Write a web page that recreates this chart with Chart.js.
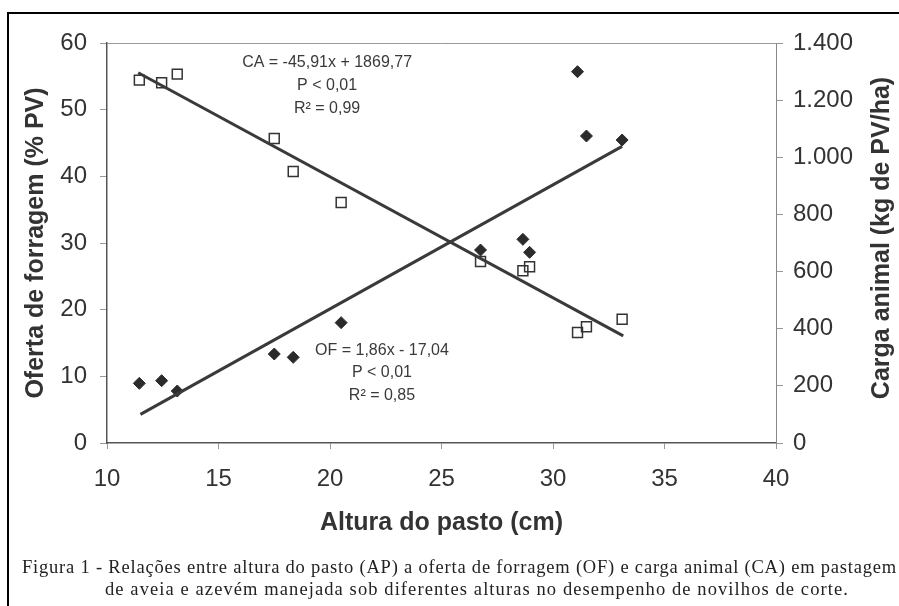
<!DOCTYPE html>
<html>
<head>
<meta charset="utf-8">
<script src="https://cdn.jsdelivr.net/npm/chart.js@4.4.1/dist/chart.umd.min.js"></script>
<style>
  html, body { margin: 0; padding: 0; background: #fff; overflow: hidden; }
  #wrap { position: relative; width: 899px; height: 606px; }
  #chart { position: absolute; left: 0; top: 0; }
  #frame { position: absolute; left: 7px; top: 12px; width: 1000px; height: 700px;
           border-left: 2px solid #000; border-top: 2px solid #000; }
  .cap { position: absolute; font-family: 'Liberation Serif', 'Times New Roman', serif;
         font-size: 18.5px; color: #222; white-space: nowrap; line-height: 20px; }
</style>
</head>
<body>
<div id="wrap">
  <canvas id="chart" width="899" height="606"></canvas>
  <div id="frame"></div>
  <div class="cap" id="cap1" data-w="875" style="left:22px; top:557px;">Figura 1 - Relações entre altura do pasto (AP) a oferta de forragem (OF) e carga animal (CA) em pastagem</div>
  <div class="cap" id="cap2" data-w="744" style="left:105px; top:579px;">de aveia e azevém manejada sob diferentes alturas no desempenho de novilhos de corte.</div>
</div>
<script>
// altura do pasto (cm) for each paddock
const alturaPasto = [11.45, 12.45, 13.15, 17.5, 18.35, 20.5, 26.75, 28.65, 28.95, 31.1, 31.5, 33.1];
// oferta de forragem (% PV) - left axis, diamonds
const ofertaForragem = [8.95, 9.35, 7.8, 13.35, 12.85, 18.05, 28.95, 30.55, 28.6, 55.7, 46.05, 45.45];
// carga animal (kg de PV/ha) - right axis, squares
const cargaAnimal = [1270, 1261, 1291, 1066, 950, 842, 635, 603, 617, 387, 407, 433];

// regression line ends as drawn
const ofLinhaX = [11.5, 33.1];
const ofLinhaY = [4.3, 44.5];
const caLinhaX = [11.4, 33.15];
const caLinhaY = [1296, 375];

const xTicks = [10, 15, 20, 25, 30, 35, 40];
const yLeftTicks = [0, 10, 20, 30, 40, 50, 60];
const yRightTicks = [0, 200, 400, 600, 800, 1000, 1200, 1400];

const caEquacao = ['CA = -45,91x + 1869,77', 'P < 0,01', 'R² = 0,99'];
const ofEquacao = ['OF = 1,86x - 17,04', 'P < 0,01', 'R² = 0,85'];
const tituloDireita = 'Carga animal (kg de PV/ha)';

const toPoints = (xs, ys) => xs.map((x, i) => ({ x: x, y: ys[i] }));
const fmtMil = v => v >= 1000 ? Math.floor(v / 1000) + '.' + String(v % 1000).padStart(3, '0') : String(v);

const sans = "'Liberation Sans', Arial, sans-serif";
const tickFont = { family: sans, size: 24 };
const titleFont = { family: sans, size: 25, weight: 'bold' };
const ink = '#333';

// caption lines stretched to the scanned width
document.querySelectorAll('.cap').forEach(el => {
  const target = +el.dataset.w;
  const n = el.textContent.length;
  const extra = (target - el.getBoundingClientRect().width) / n;
  el.style.letterSpacing = extra.toFixed(3) + 'px';
});

// plot box top line, right title and equations
const extras = {
  id: 'extras',
  beforeDatasetsDraw(chart) {
    const { ctx, chartArea: a } = chart;
    ctx.save();
    ctx.strokeStyle = '#999';
    ctx.lineWidth = 1;
    ctx.beginPath();
    ctx.moveTo(a.left, a.top + 0.5);
    ctx.lineTo(a.right, a.top + 0.5);
    ctx.stroke();
    ctx.restore();
  },
  afterDraw(chart) {
    const { ctx, chartArea: a } = chart;
    const x = chart.scales.x, y = chart.scales.y;
    ctx.save();
    ctx.fillStyle = '#3a3a3a';
    ctx.font = "16px " + sans;
    ctx.textAlign = 'center';
    ctx.textBaseline = 'middle';
    const caX = x.getPixelForValue(19.87), ofX = x.getPixelForValue(22.33);
    const caY = [57, 53.6, 50.1], ofY = [13.9, 10.6, 7.1];
    caEquacao.forEach((t, i) => ctx.fillText(t, caX, y.getPixelForValue(caY[i])));
    ofEquacao.forEach((t, i) => ctx.fillText(t, ofX, y.getPixelForValue(ofY[i])));

    ctx.fillStyle = ink;
    ctx.font = "bold 25px " + sans;
    ctx.translate(882, (a.top + a.bottom) / 2 - 5);
    ctx.rotate(-Math.PI / 2);
    ctx.fillText(tituloDireita, 0, 0);
    ctx.restore();
  }
};

new Chart(document.getElementById('chart'), {
  type: 'scatter',
  data: {
    datasets: [
      {
        label: 'CA linha', data: toPoints(caLinhaX, caLinhaY), yAxisID: 'y1',
        showLine: true, borderColor: '#3a3a3a', borderWidth: 3, pointRadius: 0
      },
      {
        label: 'OF linha', data: toPoints(ofLinhaX, ofLinhaY), yAxisID: 'y',
        showLine: true, borderColor: '#3a3a3a', borderWidth: 3, pointRadius: 0
      },
      {
        label: 'CA', data: toPoints(alturaPasto, cargaAnimal), yAxisID: 'y1',
        pointStyle: 'rect', pointRadius: 7, borderColor: '#333', borderWidth: 1.5,
        backgroundColor: 'rgba(0,0,0,0)'
      },
      {
        label: 'OF', data: toPoints(alturaPasto, ofertaForragem), yAxisID: 'y',
        pointStyle: 'rectRot', pointRadius: 6, borderColor: '#2b2b2b', borderWidth: 1,
        backgroundColor: '#2b2b2b'
      }
    ]
  },
  options: {
    responsive: false,
    animation: false,
    devicePixelRatio: 1,
    layout: { padding: { top: 43, left: 0, right: 0, bottom: 0 } },
    plugins: { legend: { display: false }, tooltip: { enabled: false } },
    scales: {
      x: {
        type: 'linear', min: 10, max: 40,
        afterFit: s => { s.height = 163; },
        afterBuildTicks: s => { s.ticks = xTicks.map(v => ({ value: v })); },
        border: { color: '#555', width: 1.5 },
        grid: { drawOnChartArea: false, tickLength: 6, color: '#999' },
        ticks: { font: tickFont, color: ink, padding: 16, maxRotation: 0 },
        title: { display: true, text: 'Altura do pasto (cm)', font: titleFont, color: ink,
                 padding: { top: 0, bottom: 68 } }
      },
      y: {
        type: 'linear', position: 'left', min: 0, max: 60,
        afterFit: s => { s.width = 107; },
        afterBuildTicks: s => { s.ticks = yLeftTicks.map(v => ({ value: v })); },
        border: { color: '#555', width: 1.5 },
        grid: { drawOnChartArea: false, tickLength: 7, color: '#999' },
        ticks: { font: tickFont, color: ink, padding: 13 },
        title: { display: true, text: 'Oferta de forragem (% PV)', font: titleFont, color: ink,
                 padding: { top: 21, bottom: 0 } }
      },
      y1: {
        type: 'linear', position: 'right', min: 0, max: 1400,
        afterFit: s => { s.width = 123; },
        afterBuildTicks: s => { s.ticks = yRightTicks.map(v => ({ value: v })); },
        border: { color: '#888', width: 1 },
        grid: { drawOnChartArea: false, tickLength: 7, color: '#999' },
        ticks: { font: tickFont, color: ink, padding: 10, callback: v => fmtMil(v) },
        title: { display: false }
      }
    }
  },
  plugins: [extras]
});
</script>
</body>
</html>
